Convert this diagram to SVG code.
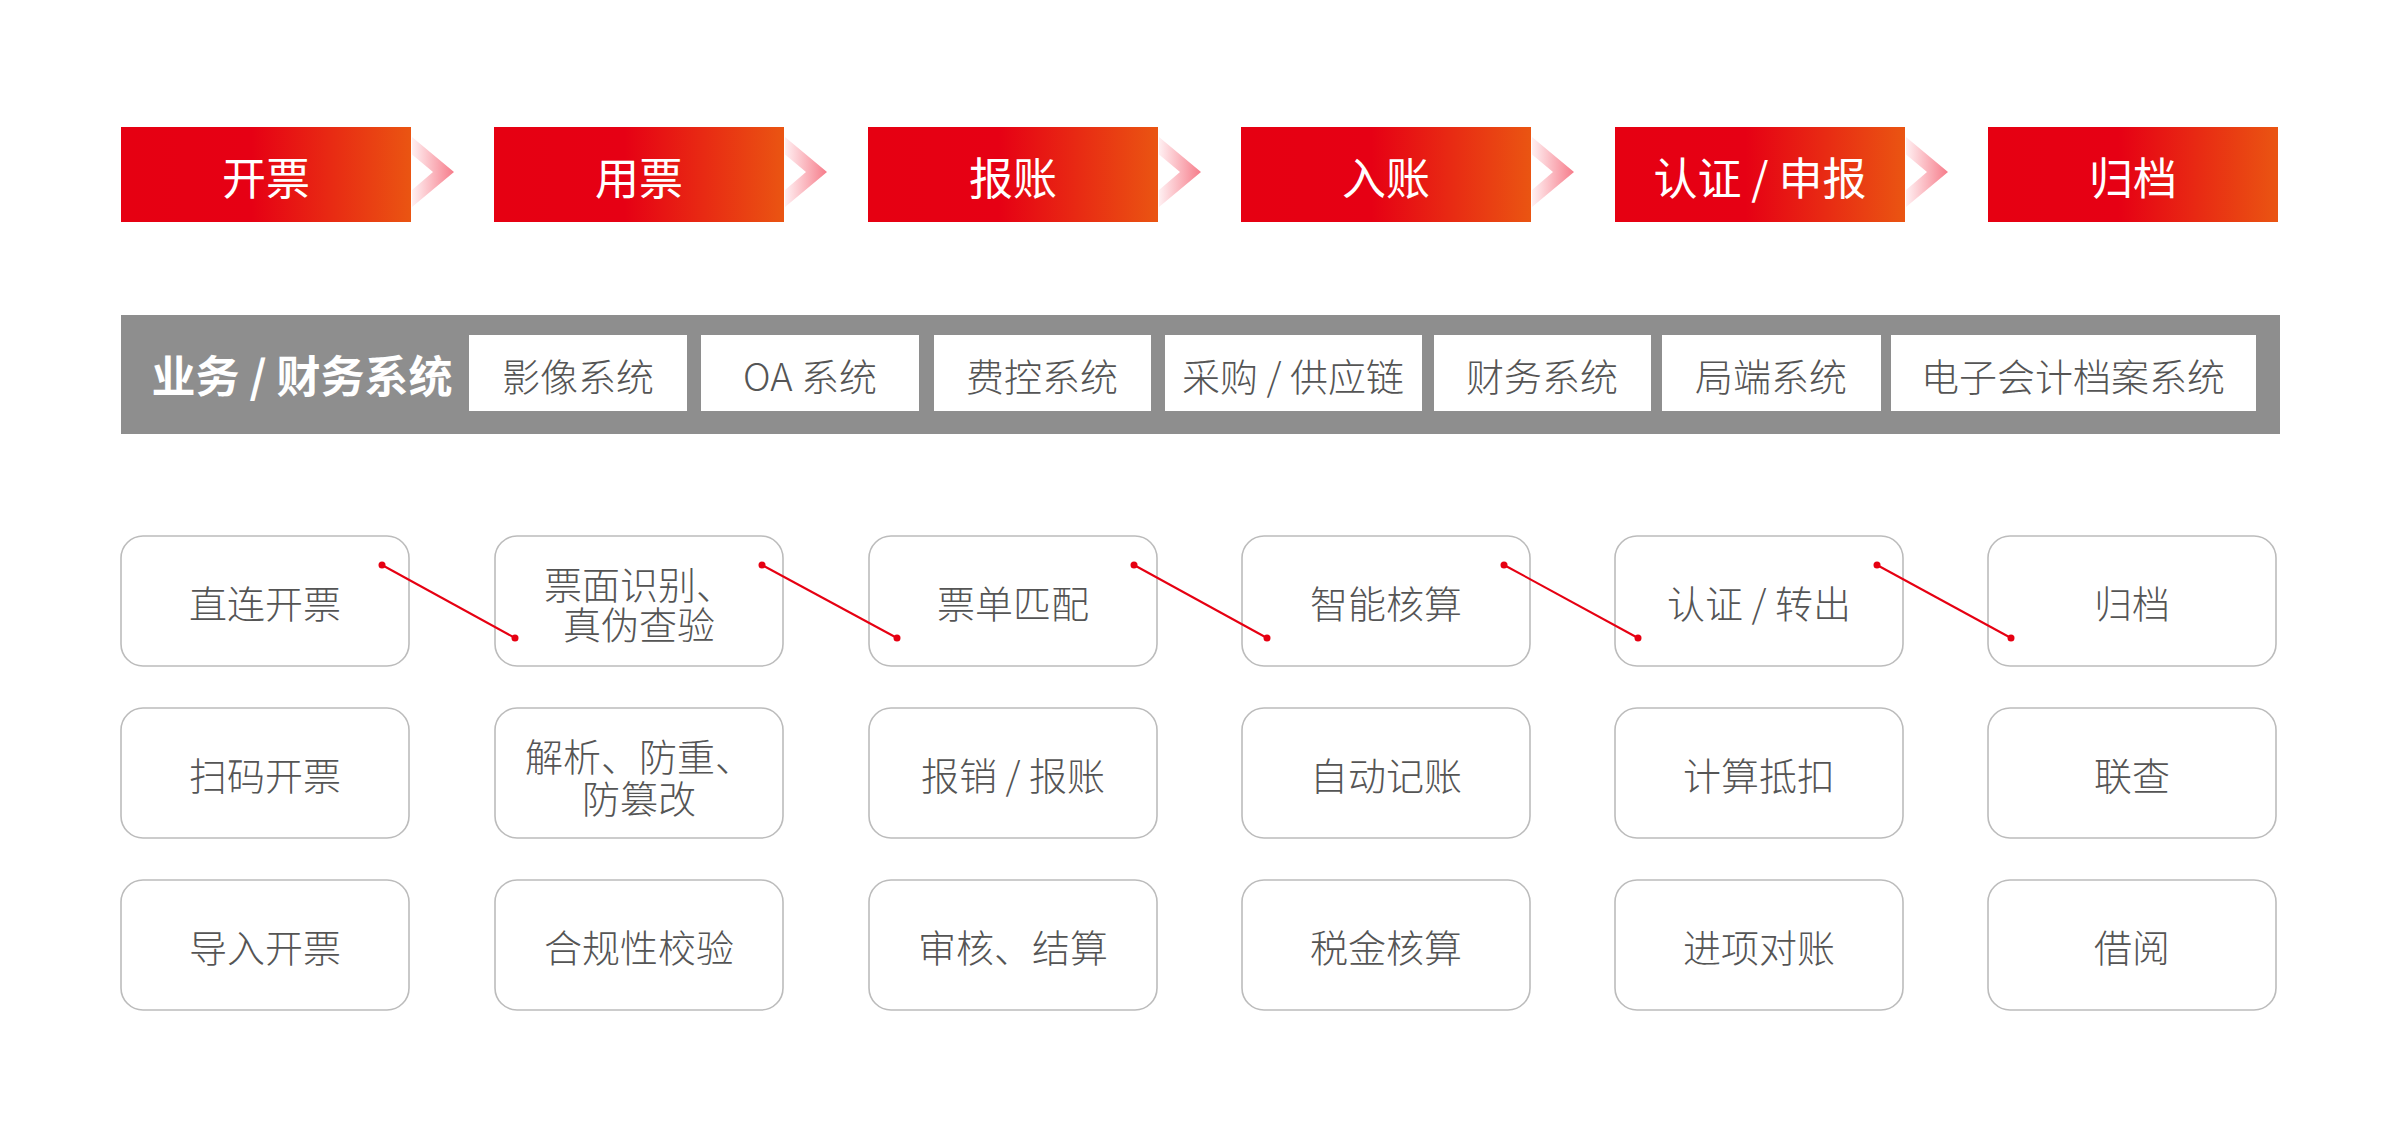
<svg xmlns="http://www.w3.org/2000/svg" width="2400" height="1134" viewBox="0 0 2400 1134">
<defs>
<linearGradient id="redGrad" x1="0" y1="0" x2="1" y2="0">
<stop offset="0" stop-color="#e60012"/>
<stop offset="0.45" stop-color="#e60014"/>
<stop offset="1" stop-color="#ea5512"/>
</linearGradient>
<linearGradient id="chevGrad" x1="0" y1="0" x2="1" y2="0">
<stop offset="0" stop-color="#fff0f2"/>
<stop offset="1" stop-color="#f67c8a"/>
</linearGradient>
<polygon id="chev" points="0,0 42,35 0,70 0,53 21,35 0,17.5" fill="url(#chevGrad)"/>
</defs>
<style>
text{font-family:"Noto Sans CJK SC","Noto Sans",sans-serif;dominant-baseline:central;text-anchor:middle}
.step rect{fill:url(#redGrad)}
.step text{fill:#ffffff;font-size:44px;font-weight:400}
.sysbar{fill:#8e8e8e}
.sysbox rect{fill:#ffffff}
.sysbox text{fill:#555555;font-size:38px;font-weight:300}
.syslabel{fill:#ffffff;font-size:44px;font-weight:700}
.node rect{fill:#ffffff;stroke:#bcbcbc;stroke-width:1.6}
.node text{fill:#555555;font-size:38px;font-weight:300}
.conn line{stroke:#e60012;stroke-width:2}
.conn circle{fill:#e60012}
</style>
<rect width="2400" height="1134" fill="#ffffff"/>

<!-- process steps -->
<g id="step-kaipiao" class="step"><rect x="121" y="127" width="290" height="95"/><text x="266" y="176">开票</text></g>
<g id="step-yongpiao" class="step"><rect x="494" y="127" width="290" height="95"/><text x="639" y="176">用票</text></g>
<g id="step-baozhang" class="step"><rect x="868" y="127" width="290" height="95"/><text x="1013" y="176">报账</text></g>
<g id="step-ruzhang" class="step"><rect x="1241" y="127" width="290" height="95"/><text x="1386" y="176">入账</text></g>
<g id="step-renzheng" class="step"><rect x="1615" y="127" width="290" height="95"/><text x="1760" y="176">认证 / 申报</text></g>
<g id="step-guidang" class="step"><rect x="1988" y="127" width="290" height="95"/><text x="2133" y="176">归档</text></g>

<!-- chevrons between steps -->
<g id="chevrons">
<use href="#chev" x="412" y="137"/>
<use href="#chev" x="785" y="137"/>
<use href="#chev" x="1159" y="137"/>
<use href="#chev" x="1532" y="137"/>
<use href="#chev" x="1906" y="137"/>
</g>

<!-- systems bar -->
<g id="systems">
<rect class="sysbar" x="121" y="315" width="2159" height="119"/>
<text class="syslabel" x="302" y="374">业务 / 财务系统</text>
<g id="sys-yingxiang" class="sysbox"><rect x="469" y="335" width="218" height="76"/><text x="578" y="374">影像系统</text></g>
<g id="sys-oa" class="sysbox"><rect x="701" y="335" width="218" height="76"/><text x="810" y="374">OA 系统</text></g>
<g id="sys-feikong" class="sysbox"><rect x="934" y="335" width="217" height="76"/><text x="1042" y="374">费控系统</text></g>
<g id="sys-caigou" class="sysbox"><rect x="1165" y="335" width="257" height="76"/><text x="1293" y="374">采购 / 供应链</text></g>
<g id="sys-caiwu" class="sysbox"><rect x="1434" y="335" width="217" height="76"/><text x="1542" y="374">财务系统</text></g>
<g id="sys-juduan" class="sysbox"><rect x="1662" y="335" width="219" height="76"/><text x="1771" y="374">局端系统</text></g>
<g id="sys-dangan" class="sysbox"><rect x="1891" y="335" width="365" height="76"/><text x="2073" y="374">电子会计档案系统</text></g>
</g>

<!-- nodes: column 1 -->
<g id="n-zhilian" class="node"><rect x="121" y="536" width="288" height="130" rx="22"/><text x="265" y="601">直连开票</text></g>
<g id="n-saoma" class="node"><rect x="121" y="708" width="288" height="130" rx="22"/><text x="265" y="773">扫码开票</text></g>
<g id="n-daoru" class="node"><rect x="121" y="880" width="288" height="130" rx="22"/><text x="265" y="945">导入开票</text></g>
<!-- column 2 -->
<g id="n-piaomian" class="node"><rect x="495" y="536" width="288" height="130" rx="22"/><text><tspan x="639" y="582">票面识别、</tspan><tspan x="639" y="622">真伪查验</tspan></text></g>
<g id="n-jiexi" class="node"><rect x="495" y="708" width="288" height="130" rx="22"/><text><tspan x="639" y="754">解析、防重、</tspan><tspan x="639" y="796">防篡改</tspan></text></g>
<g id="n-hegui" class="node"><rect x="495" y="880" width="288" height="130" rx="22"/><text x="639" y="945">合规性校验</text></g>
<!-- column 3 -->
<g id="n-piaodan" class="node"><rect x="869" y="536" width="288" height="130" rx="22"/><text x="1013" y="601">票单匹配</text></g>
<g id="n-baoxiao" class="node"><rect x="869" y="708" width="288" height="130" rx="22"/><text x="1013" y="773">报销 / 报账</text></g>
<g id="n-shenhe" class="node"><rect x="869" y="880" width="288" height="130" rx="22"/><text x="1013" y="945">审核、结算</text></g>
<!-- column 4 -->
<g id="n-zhineng" class="node"><rect x="1242" y="536" width="288" height="130" rx="22"/><text x="1386" y="601">智能核算</text></g>
<g id="n-zidong" class="node"><rect x="1242" y="708" width="288" height="130" rx="22"/><text x="1386" y="773">自动记账</text></g>
<g id="n-shuijin" class="node"><rect x="1242" y="880" width="288" height="130" rx="22"/><text x="1386" y="945">税金核算</text></g>
<!-- column 5 -->
<g id="n-renzheng" class="node"><rect x="1615" y="536" width="288" height="130" rx="22"/><text x="1759" y="601">认证 / 转出</text></g>
<g id="n-jisuan" class="node"><rect x="1615" y="708" width="288" height="130" rx="22"/><text x="1759" y="773">计算抵扣</text></g>
<g id="n-jinxiang" class="node"><rect x="1615" y="880" width="288" height="130" rx="22"/><text x="1759" y="945">进项对账</text></g>
<!-- column 6 -->
<g id="n-guidang" class="node"><rect x="1988" y="536" width="288" height="130" rx="22"/><text x="2132" y="601">归档</text></g>
<g id="n-liancha" class="node"><rect x="1988" y="708" width="288" height="130" rx="22"/><text x="2132" y="773">联查</text></g>
<g id="n-jieyue" class="node"><rect x="1988" y="880" width="288" height="130" rx="22"/><text x="2132" y="945">借阅</text></g>

<!-- connectors -->
<g id="connectors" class="conn">
<line x1="382" y1="565" x2="515" y2="638"/><circle cx="382" cy="565" r="3.5"/><circle cx="515" cy="638" r="3.5"/>
<line x1="762" y1="565" x2="897" y2="638"/><circle cx="762" cy="565" r="3.5"/><circle cx="897" cy="638" r="3.5"/>
<line x1="1134" y1="565" x2="1267" y2="638"/><circle cx="1134" cy="565" r="3.5"/><circle cx="1267" cy="638" r="3.5"/>
<line x1="1504" y1="565" x2="1638" y2="638"/><circle cx="1504" cy="565" r="3.5"/><circle cx="1638" cy="638" r="3.5"/>
<line x1="1877" y1="565" x2="2011" y2="638"/><circle cx="1877" cy="565" r="3.5"/><circle cx="2011" cy="638" r="3.5"/>
</g>
</svg>
